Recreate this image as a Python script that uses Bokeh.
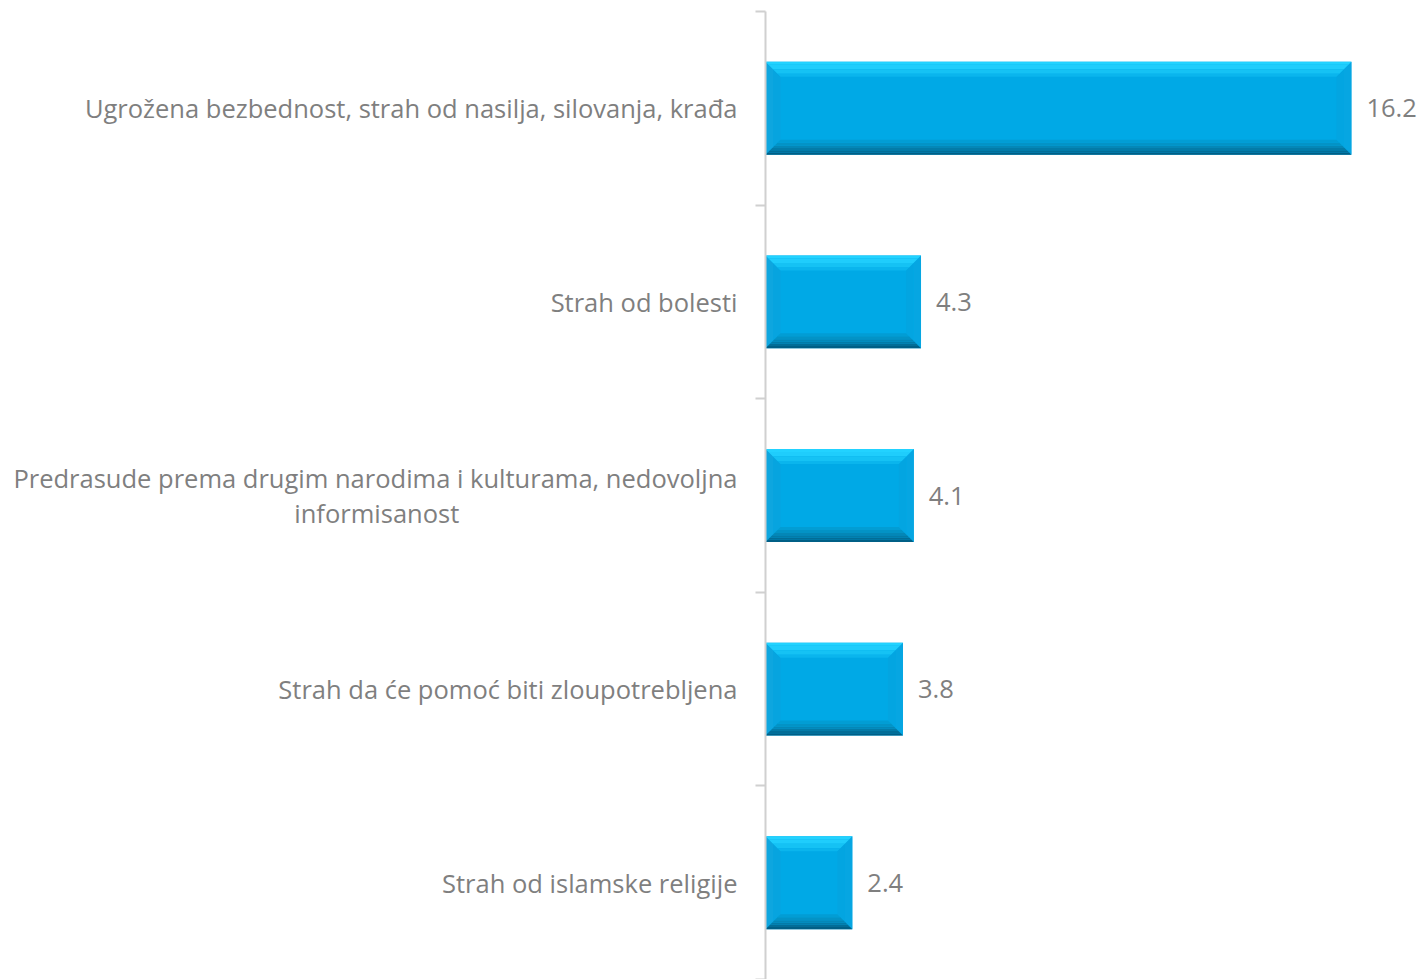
from bokeh.plotting import figure
from bokeh.models import FixedTicker, Range1d, ColumnDataSource
from bokeh.embed import file_html
from bokeh.resources import INLINE
from bokeh.core.properties import value

NB = "\u00a0"
categories = [
    "Ugrožena bezbednost, strah od nasilja, silovanja, krađa",
    "Strah od bolesti",
    "Predrasude prema drugim narodima i kulturama, nedovoljna\ninformisanost" + NB * 42,
    "Strah da će pomoć biti zloupotrebljena",
    "Strah od islamske religije",
]
values = [16.2, 4.3, 4.1, 3.8, 2.4]
value_labels = ["16.2", "4.3", "4.1", "3.8", "2.4"]

FONT = "Open Sans"
FS = "25.5px"
TXT = "#7f7f7f"
AX = "#d0d0d0"

n = len(categories)
ypos = [n - i - 0.5 for i in range(n)]
BAR_H = 0.48

W, H = 1424, 979
BL, BT, BR = 765, 11, 8
x_end = 18.0
y_start, y_end = 0.0, 5.0
px_x = (W - BL - BR) / x_end
px_y = (H - BT) / (y_end - y_start)
BEV = 15.0
dx = BEV / px_x
dy = BEV / px_y

p = figure(width=W, height=H, output_backend="svg", toolbar_location=None,
           x_range=Range1d(0, x_end), y_range=Range1d(y_start, y_end),
           min_border_left=BL, min_border_top=BT, min_border_right=BR, min_border_bottom=0)
p.outline_line_color = None
p.xgrid.visible = False
p.ygrid.visible = False
p.xaxis.visible = False
p.background_fill_color = "white"
p.border_fill_color = "white"

# main bar body
src = ColumnDataSource(dict(y=ypos, right=values))
p.hbar(y="y", left=0, right="right", height=BAR_H, source=src,
       fill_color="#00a9e6", line_color=None)

def bevel(side, a, b):
    xs, ys = [], []
    for y, v in zip(ypos, values):
        L, R = 0.0, v
        T, B = y + BAR_H / 2, y - BAR_H / 2
        ax_, bx_ = a * dx, b * dx
        ay_, by_ = a * dy, b * dy
        if side == "top":
            xs.append([L + ax_, R - ax_, R - bx_, L + bx_])
            ys.append([T - ay_, T - ay_, T - by_, T - by_])
        elif side == "bottom":
            xs.append([L + ax_, R - ax_, R - bx_, L + bx_])
            ys.append([B + ay_, B + ay_, B + by_, B + by_])
        elif side == "left":
            xs.append([L + ax_, L + ax_, L + bx_, L + bx_])
            ys.append([B + ay_, T - ay_, T - by_, B + by_])
        else:
            xs.append([R - ax_, R - ax_, R - bx_, R - bx_])
            ys.append([B + ay_, T - ay_, T - by_, B + by_])
    return xs, ys

layers = [
    ("left", 0.0, 0.5, "#0ea6df"),
    ("left", 0.5, 1.0, "#07a4df"),
    ("right", 0.0, 0.5, "#06a6e2"),
    ("right", 0.5, 1.0, "#03a5e1"),
    ("top", 0.0, 0.2, "#22d2ff"),
    ("top", 0.2, 0.5, "#1fcdfc"),
    ("top", 0.5, 0.8, "#15c2f4"),
    ("top", 0.8, 1.0, "#0ab5ed"),
    ("bottom", 0.0, 0.15, "#005f86"),
    ("bottom", 0.15, 0.3, "#026d97"),
    ("bottom", 0.3, 0.45, "#037ba8"),
    ("bottom", 0.45, 0.6, "#0487b7"),
    ("bottom", 0.6, 0.8, "#0393c6"),
    ("bottom", 0.8, 1.0, "#029dd4"),
]
for side, a, b, col in layers:
    xs, ys = bevel(side, a, b)
    p.patches(xs=xs, ys=ys, fill_color=col, line_color=None)

# value labels
p.text(x=values, y=ypos, text=value_labels, x_offset=15,
       text_align="left", text_baseline="middle",
       text_font=value(FONT), text_font_size=FS, text_color=TXT)

ax = p.yaxis[0]
ax.ticker = FixedTicker(ticks=ypos, minor_ticks=[0, 1, 2, 3, 4, 5])
ax.major_label_overrides = {float(y): c for y, c in zip(ypos, categories)}
ax.axis_line_color = AX
ax.axis_line_width = 2
ax.major_tick_line_color = None
ax.major_tick_out = 0
ax.major_tick_in = 0
ax.minor_tick_line_color = AX
ax.minor_tick_line_width = 2
ax.minor_tick_out = 10
ax.minor_tick_in = 0
ax.major_label_standoff = 18
ax.major_label_text_font = FONT
ax.major_label_text_font_size = FS
ax.major_label_text_color = TXT
ax.major_label_text_line_height = 1.05

open("out.html", "w").write(file_html(p, INLINE))
